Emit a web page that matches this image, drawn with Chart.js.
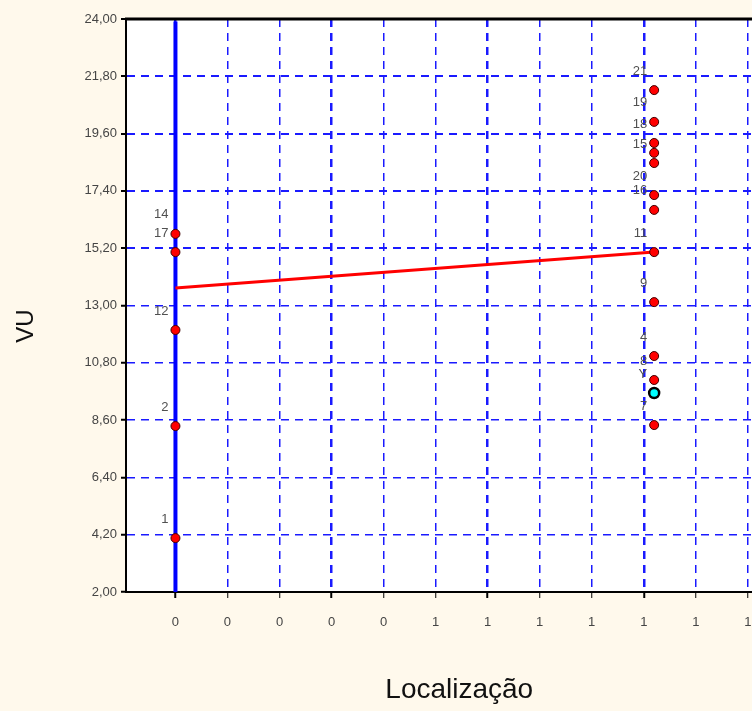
<!DOCTYPE html>
<html>
<head>
<meta charset="utf-8">
<script src="https://cdn.jsdelivr.net/npm/chart.js@4/dist/chart.umd.min.js"></script>
<style>
    html, body { margin: 0; padding: 0; overflow: hidden; background: #fff9ec; }
    #wrap { width: 800px; height: 711px; }
</style>
</head>
<body>
<div id="wrap"><canvas id="chart" width="800" height="711"></canvas></div>
<script>
// group 0 (left) and group 1 (right)
const locations = [0, 1];

const leftIds = ['14', '17', '12', '2', '1'];
const leftVU = [15.75, 15.05, 12.06, 8.37, 4.07];

const rightIds = ['21', '19', '18', '', '15', '20', '16', '11', '9', '4', '8', '7'];
const rightVU = [21.27, 20.05, 19.24, 18.86, 18.47, 17.24, 16.67, 15.05, 13.13, 11.06, 10.14, 8.41];

const meanLabel = ['Y'];
const meanVU = [9.64];

// fitted line between the two groups
const fitVU = [13.67, 15.05];

// vertical line at location 0
const zeroLineVU = [2.0, 23.9];

const yTicks = [2.0, 4.2, 6.4, 8.6, 10.8, 13.0, 15.2, 17.4, 19.6, 21.8, 24.0];
const xTicks = [0, 0.1087, 0.2174, 0.3261, 0.4348, 0.5435, 0.6522, 0.7609, 0.8696, 0.9783, 1.0870, 1.1957];
const xTickLabels = ['0', '0', '0', '0', '0', '1', '1', '1', '1', '1', '1', '1'];

const pointIds = leftIds.concat(rightIds);
const points = leftVU.map(v => ({x: locations[0], y: v}))
    .concat(rightVU.map(v => ({x: locations[1], y: v})));

const frame = {
    id: 'frame',
    beforeDraw(chart) {
        const {ctx, chartArea: a} = chart;
        ctx.save();
        ctx.fillStyle = '#fff9ec';
        ctx.fillRect(0, 0, chart.width, chart.height);
        ctx.fillStyle = '#ffffff';
        ctx.fillRect(a.left, a.top, a.right - a.left, a.bottom - a.top);
        ctx.restore();
    },
    afterDatasetsDraw(chart) {
        const ctx = chart.ctx;
        ctx.save();
        ctx.font = '13px "Liberation Sans", Arial, sans-serif';
        ctx.fillStyle = '#505050';
        ctx.textAlign = 'right';
        ctx.textBaseline = 'middle';
        const put = (dsIndex, labels) => {
            chart.getDatasetMeta(dsIndex).data.forEach((el, i) => {
                if (labels[i]) ctx.fillText(labels[i], el.x - 7, el.y - 19);
            });
        };
        put(1, pointIds);
        put(0, meanLabel);
        ctx.restore();
    },
    afterDraw(chart) {
        const {ctx, chartArea: a} = chart;
        ctx.save();
        ctx.strokeStyle = '#000';
        ctx.lineWidth = 3;
        ctx.beginPath();
        ctx.moveTo(a.left - 1, a.top);
        ctx.lineTo(a.right, a.top);
        ctx.stroke();

        ctx.translate(26, 326);
        ctx.rotate(-Math.PI / 2);
        ctx.font = '24px "Liberation Sans", Arial, sans-serif';
        ctx.fillStyle = '#111';
        ctx.textAlign = 'center';
        ctx.textBaseline = 'middle';
        ctx.fillText('VU', 0, 0);
        ctx.restore();
    }
};

new Chart(document.getElementById('chart').getContext('2d'), {
    type: 'scatter',
    data: {
        datasets: [
            {
                data: meanVU.map(v => ({x: locations[1], y: v})),
                pointRadius: 5,
                pointBackgroundColor: '#00ffff',
                pointBorderColor: '#000',
                pointBorderWidth: 2.5,
            },
            {
                data: points,
                pointRadius: 4.5,
                pointBackgroundColor: '#ff0000',
                pointBorderColor: '#400000',
                pointBorderWidth: 1,
            },
            {
                data: locations.map((x, i) => ({x: x, y: fitVU[i]})),
                showLine: true,
                borderColor: '#ff0000',
                borderWidth: 3,
                pointRadius: 0,
            },
            {
                data: zeroLineVU.map(v => ({x: locations[0], y: v})),
                showLine: true,
                borderColor: '#0000ff',
                borderWidth: 4,
                pointRadius: 0,
            },
        ],
    },
    options: {
        responsive: false,
        animation: false,
        layout: { padding: { top: 19, left: 0, right: 0, bottom: 0 } },
        plugins: {
            legend: { display: false },
            tooltip: { enabled: false },
        },
        scales: {
            x: {
                type: 'linear',
                min: -0.1033,
                max: 1.289,
                afterBuildTicks(scale) {
                    scale.ticks = xTicks.map(v => ({value: v}));
                },
                afterFit(scale) {
                    scale.height = 119;
                },
                grid: {
                    color: '#1a1aff',
                    lineWidth: ctx => (ctx.index % 3 === 0 ? 2.5 : 1.5),
                    tickLength: 6,
                    tickColor: '#000',
                    tickWidth: ctx => (ctx.index % 3 === 0 ? 2 : 1),
                    tickBorderDash: [],
                },
                border: { color: '#000', width: 2, dash: [8, 6] },
                ticks: {
                    autoSkip: false,
                    maxRotation: 0,
                    padding: 17,
                    color: '#454545',
                    font: { family: '"Liberation Sans", Arial, sans-serif', size: 13 },
                    callback: (v, i) => xTickLabels[i],
                },
                title: {
                    display: true,
                    text: 'Localização',
                    color: '#111',
                    font: { family: '"Liberation Sans", Arial, sans-serif', size: 28 },
                    padding: { top: 0, bottom: 4 },
                },
            },
            y: {
                min: 2,
                max: 24,
                afterBuildTicks(scale) {
                    scale.ticks = yTicks.map(v => ({value: v}));
                },
                afterFit(scale) {
                    scale.width = 126;
                },
                grid: {
                    color: '#1a1aff',
                    lineWidth: ctx => (ctx.tick && ctx.tick.value >= 15 ? 2 : 1.5),
                    tickLength: 5,
                    tickColor: '#000',
                    tickWidth: 2,
                    tickBorderDash: [],
                },
                border: { color: '#000', width: 2, dash: [8, 6] },
                ticks: {
                    padding: 4,
                    color: '#454545',
                    font: { family: '"Liberation Sans", Arial, sans-serif', size: 13 },
                    callback: v => v.toFixed(2).replace('.', ','),
                },
            },
        },
    },
    plugins: [frame],
});
</script>
</body>
</html>
